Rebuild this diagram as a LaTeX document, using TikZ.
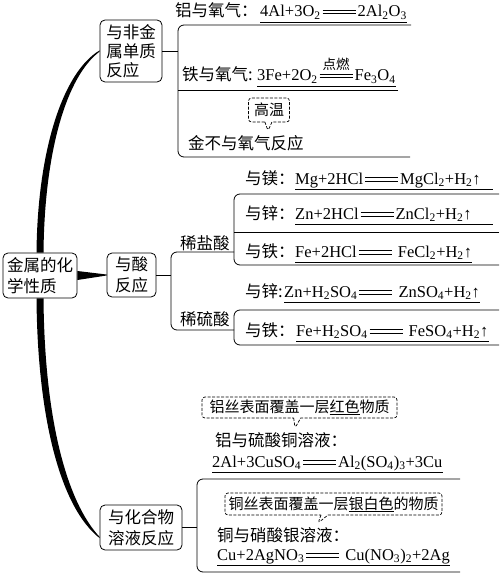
\documentclass[tikz,border=0pt]{standalone}
\usepackage{fontspec}
\setmainfont{Liberation Serif}
\newfontfamily\cjk{Noto Sans CJK SC}
\usetikzlibrary{shapes.callouts}

\newcommand{\sub}[1]{\textsubscript{#1}}
\newcommand{\deng}[1][]{\hspace{2pt}\rlap{\rule[2.8pt]{33pt}{0.7pt}}\rlap{\rule[6pt]{33pt}{0.7pt}}\rlap{\makebox[33pt]{\raisebox{11pt}{\cjk\fontsize{13.5}{14}\selectfont #1}}}\hspace{35pt}}
\newsavebox{\ulbox}
\newcommand{\uln}[1]{\sbox{\ulbox}{#1}\rlap{\rule[-2.5pt]{\wd\ulbox}{0.6pt}}\usebox{\ulbox}}

\begin{document}
\begin{tikzpicture}[x=1pt,y=-1pt,
box/.style={draw,rounded corners=5pt,line width=0.8pt,align=left,inner sep=0pt,font=\cjk\fontsize{16.5}{21}\selectfont},
txt/.style={anchor=base west,inner sep=0pt,font=\cjk\fontsize{16.5}{20}\selectfont},
chem/.style={anchor=base west,inner sep=0pt,font=\fontsize{16.5}{20}\selectfont},
note/.style={rectangle callout,draw,dash pattern=on 3pt off 1.5pt,rounded corners=3pt,line width=0.7pt,inner sep=0pt,callout pointer width=7pt,font=\cjk\fontsize{15}{18}\selectfont},
link/.style={line width=0.8pt},
branch/.style={line width=0.8pt,rounded corners=6pt},
uline/.style={line width=0.7pt},
trunk/.style={fill=black}]

\useasboundingbox (0,0) rectangle (500,575);

\node[box,minimum width=74pt,minimum height=45pt] (root) at (40,275.5) {金属的化\\学性质};

\node[box,minimum width=62pt,minimum height=62pt,font=\cjk\fontsize{16.5}{19}\selectfont] (nonmetal) at (131,51) {与非金\\属单质\\反应};

\node[box,minimum width=49pt,minimum height=44pt] (acid) at (131.5,275) {与酸\\反应};

\node[box,minimum width=82pt,minimum height=45pt] (salt) at (141,527.5) {与化合物\\溶液反应};

\fill[trunk] ([xshift=-3.5pt]root.north) .. controls (37.5,150) and (63,72) .. ([yshift=0.6pt]nonmetal.west) -- ([yshift=-0.6pt]nonmetal.west) .. controls (67,76) and (44.5,150) .. ([xshift=3.5pt]root.north) -- cycle;

\fill[trunk] ([xshift=-3.5pt]root.south) .. controls (37.5,420) and (61,508) .. ([yshift=-10.6pt]salt.west) -- ([yshift=-9.4pt]salt.west) .. controls (67,502) and (44.5,420) .. ([xshift=3.5pt]root.south) -- cycle;

\fill[trunk] ([yshift=4.5pt]root.east) -- ([yshift=0.5pt]acid.west) -- ([yshift=-0.5pt]acid.west) -- ([yshift=-4.5pt]root.east) -- cycle;

\coordinate (s1) at (178,51);
\coordinate (t1) at (411,25);
\coordinate (t2) at (398,90);
\coordinate (t3) at (410,157);

\draw[link] (nonmetal.east) -- (s1);

\draw[branch] (t1) -| (s1) |- (t3);

\draw[link] (t2) -- (t2 -| s1);

\coordinate (s2) at (171,275);
\coordinate (p1) at (234,252);
\coordinate (p2) at (234,330);
\coordinate (h1) at (499,194);
\coordinate (h2) at (499,232);
\coordinate (h3) at (499,265);
\coordinate (k1) at (499,310);
\coordinate (k2) at (499,345);

\draw[link] (acid.east) -- (s2);

\draw[branch] (p1) -| (s2) |- (p2);

\draw[branch] (h1) -| (p1) |- (h3);

\draw[link] (h2) -- (h2 -| p1);

\draw[branch] (k1) -| (p2) |- (k2);

\coordinate (s3) at (197,527.5);
\coordinate (m1) at (460,479);
\coordinate (m2) at (460,572);

\draw[link] (salt.east) -- (s3);

\draw[branch] (m1) -| (s3) |- (m2);

\node[txt] (alT) at (175,17) {铝与氧气：};

\node[chem] (alF) at (260,17) {4Al+3O\sub{2}\deng 2Al\sub{2}O\sub{3}};

\node[txt] (feT) at (182,81) {铁与氧气:};

\node[chem] (feF) at (257,81) {3Fe+2O\sub{2}\deng[点燃]Fe\sub{3}O\sub{4}};

\coordinate (hp) at (268,131);

\node[note,minimum width=41pt,minimum height=24pt,callout absolute pointer={(hp)}] (heat) at (269,110) {高温};

\node[txt] (auT) at (188,149) {金不与氧气反应};

\node[txt] (hclT) at (180,249) {稀盐酸};

\node[txt] (hsoT) at (180,325) {稀硫酸};

\node[txt] (mgT) at (245,184) {与镁：};

\node[chem,text width=198pt] (mgF) at (295,184) {\noindent Mg+2HCl\deng MgCl\sub{2}+H\sub{2}↑};

\node[txt] (znaT) at (245,219) {与锌：};

\node[chem,text width=198pt] (znaF) at (295,219) {\noindent Zn+2HCl\deng ZnCl\sub{2}+H\sub{2}↑};

\node[txt] (feaT) at (245,257) {与铁：};

\node[chem] (feaF) at (295,257) {Fe+2HCl\deng\ FeCl\sub{2}+H\sub{2}↑};

\node[txt] (znbT) at (245,297) {与锌:};

\node[chem] (znbF) at (284,297) {Zn+H\sub{2}SO\sub{4}\deng\ ZnSO\sub{4}+H\sub{2}↑};

\node[txt] (febT) at (245,336) {与铁：};

\node[chem] (febF) at (296,336) {Fe+H\sub{2}SO\sub{4}\deng\ FeSO\sub{4}+H\sub{2}↑};

\coordinate (cup) at (295,428);

\node[note,minimum width=195pt,minimum height=21pt,callout absolute pointer={(cup)}] (cuNote) at (299.5,407.5) {铝丝表面覆盖一层\uln{红色}物质};

\node[txt] (alcuT) at (215,446) {铝与硫酸铜溶液：};

\node[chem] (alcuF) at (212,467) {2Al+3CuSO\sub{4}\deng Al\sub{2}(SO\sub{4})\sub{3}+3Cu};

\coordinate (agp) at (318,523);

\node[note,minimum width=217pt,minimum height=22pt,callout absolute pointer={(agp)}] (agNote) at (333.5,504) {铜丝表面覆盖一层\uln{银白色}的物质};

\node[txt] (cuagT) at (217,541) {铜与硝酸银溶液：};

\node[chem] (cuagF) at (217,560) {Cu+2AgNO\sub{3}\deng\ Cu(NO\sub{3})\sub{2}+2Ag};

\foreach \f in {alF,feF,mgF,znaF,feaF,znbF,febF,alcuF,cuagF}
\draw[uline] ([yshift=-5pt]\f.base west) -- ([yshift=-5pt]\f.base east);
\end{tikzpicture}
\end{document}
